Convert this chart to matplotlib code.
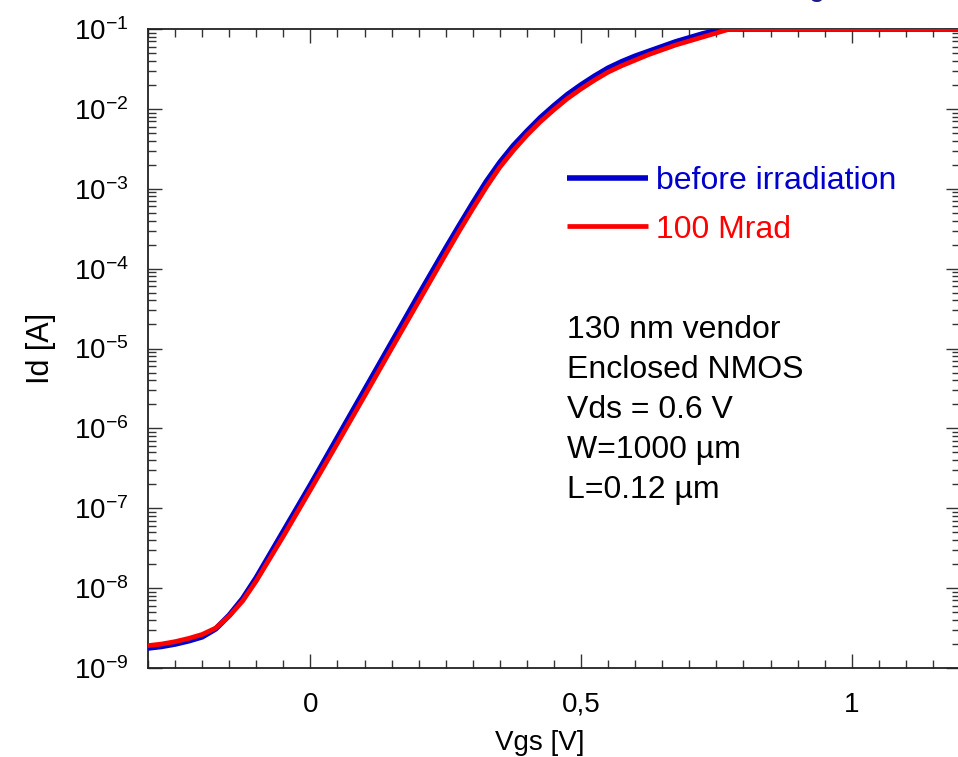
import numpy as np
import matplotlib
matplotlib.use("Agg")
import matplotlib.pyplot as plt
from matplotlib.ticker import FixedLocator, FuncFormatter, LogLocator, NullFormatter

plt.rcParams['font.family'] = ['Liberation Sans', 'DejaVu Sans']

# Gate voltage [V]
vgs_before = [-0.300, -0.275, -0.250, -0.225, -0.200, -0.175, -0.150, -0.125, -0.100, -0.075,
              -0.050, -0.025, 0.000, 0.050, 0.100, 0.150, 0.200, 0.250, 0.275, 0.300, 0.325,
              0.350, 0.375, 0.400, 0.425, 0.450, 0.475, 0.500, 0.525, 0.550, 0.575, 0.600,
              0.625, 0.650, 0.675, 0.700, 0.725, 0.750, 0.765, 0.800, 0.900, 1.000, 1.100, 1.200]
# log10(Id [A]) before irradiation
logid_before = [-8.75, -8.73, -8.70, -8.66, -8.61, -8.51, -8.34, -8.13, -7.87, -7.58,
                -7.29, -7.00, -6.71, -6.115, -5.52, -4.925, -4.33, -3.745, -3.46, -3.18, -2.91,
                -2.67, -2.46, -2.28, -2.11, -1.96, -1.82, -1.70, -1.59, -1.49, -1.41, -1.34,
                -1.28, -1.22, -1.16, -1.11, -1.06, -1.02, -1.00, -1.00, -1.00, -1.00, -1.00, -1.00]

vgs_100mrad = [-0.300, -0.275, -0.250, -0.225, -0.200, -0.175, -0.150, -0.125, -0.100, -0.075,
               -0.050, -0.025, 0.000, 0.050, 0.100, 0.150, 0.200, 0.250, 0.275, 0.300, 0.325,
               0.350, 0.375, 0.400, 0.425, 0.450, 0.475, 0.500, 0.525, 0.550, 0.575, 0.600,
               0.625, 0.650, 0.675, 0.700, 0.725, 0.750, 0.775, 0.800, 0.900, 1.000, 1.100, 1.200]
logid_100mrad = [-8.72, -8.70, -8.67, -8.63, -8.58, -8.50, -8.35, -8.16, -7.91, -7.63,
                 -7.35, -7.06, -6.77, -6.185, -5.595, -5.00, -4.41, -3.82, -3.53, -3.25, -2.98,
                 -2.73, -2.52, -2.33, -2.16, -2.01, -1.87, -1.75, -1.64, -1.54, -1.46, -1.39,
                 -1.32, -1.26, -1.20, -1.15, -1.10, -1.05, -1.00, -1.00, -1.00, -1.00, -1.00, -1.00]

series_labels = ['before irradiation', '100 Mrad']
x_ticks = [0.0, 0.5, 1.0]
x_tick_labels = ['0', '0,5', '1']
y_exponents = [-9, -8, -7, -6, -5, -4, -3, -2, -1]
info_lines = ['130 nm vendor', 'Enclosed NMOS', 'Vds = 0.6 V', 'W=1000 \u00b5m', 'L=0.12 \u00b5m']

W, H = 958, 757
fig = plt.figure(figsize=(W / 100, H / 100), dpi=100)
ax = fig.add_axes([148 / W, 1 - 668 / H, (960 - 148) / W, (668 - 29) / H])

id_before = 10.0 ** np.array(logid_before)
id_100 = 10.0 ** np.array(logid_100mrad)

ax.plot(vgs_before, id_before, color='#0000cc', lw=4.0, label=series_labels[0],
        solid_capstyle='butt', solid_joinstyle='round', zorder=3)
ax.plot(vgs_100mrad, id_100, color='#ff0000', lw=3.4, label=series_labels[1],
        solid_capstyle='butt', solid_joinstyle='round', zorder=4)

ax.set_yscale('log')
ax.set_xlim(-0.3, 1.2)
ax.set_ylim(1e-9, 1e-1)


def xfmt(v, p):
    r = round(v, 2)
    return x_tick_labels[x_ticks.index(r)] if r in x_ticks else ''


ax.xaxis.set_major_locator(FixedLocator(x_ticks))
ax.xaxis.set_major_formatter(FuncFormatter(xfmt))
ax.xaxis.set_minor_locator(FixedLocator(np.arange(-0.30, 1.2001, 0.05)))

ax.yaxis.set_major_locator(FixedLocator([10.0 ** e for e in y_exponents]))
ax.yaxis.set_major_formatter(FuncFormatter(lambda v, p: r'$\mathregular{10^{%d}}$' % int(round(np.log10(v)))))
ax.yaxis.set_minor_locator(LogLocator(base=10, subs=np.arange(2, 10), numticks=20))
ax.yaxis.set_minor_formatter(NullFormatter())

ax.tick_params(which='both', direction='in', top=True, right=True, color='#333333', width=1.0)
ax.tick_params(which='major', length=10)
ax.tick_params(which='minor', length=5.5)
ax.tick_params(axis='x', which='major', labelsize=20, pad=17)
ax.tick_params(axis='y', which='major', labelsize=20, pad=14)

for s in ax.spines.values():
    s.set_linewidth(1.3)
    s.set_color('#222222')

fig.text(540 / W, 1 - 750 / H, 'Vgs [V]', fontsize=20, ha='center', va='baseline')
fig.text(49 / W, 1 - 348 / H, 'Id [A]', fontsize=22, rotation=90, rotation_mode='anchor',
         ha='center', va='baseline')

leg = ax.legend(loc='upper left', bbox_to_anchor=((567 - 148) / 812, (668 - 166) / 639),
                frameon=False, fontsize=23, handlelength=2.54, handletextpad=0.25,
                borderpad=0, borderaxespad=0, labelspacing=0.58)
for t, c in zip(leg.get_texts(), ['#0000cc', '#ff0000']):
    t.set_color(c)
for h in leg.get_lines():
    h.set_solid_capstyle('butt')

for i, line in enumerate(info_lines):
    fig.text(567 / W, 1 - (338 + 40 * i) / H, line, fontsize=23, ha='left', va='baseline')

# partially visible title at top edge
fig.text(817 / W, 1 + 4 / H, 'g', fontsize=21, color='#1a1a80', ha='center', va='baseline')

fig.savefig('out.png', dpi=100)
